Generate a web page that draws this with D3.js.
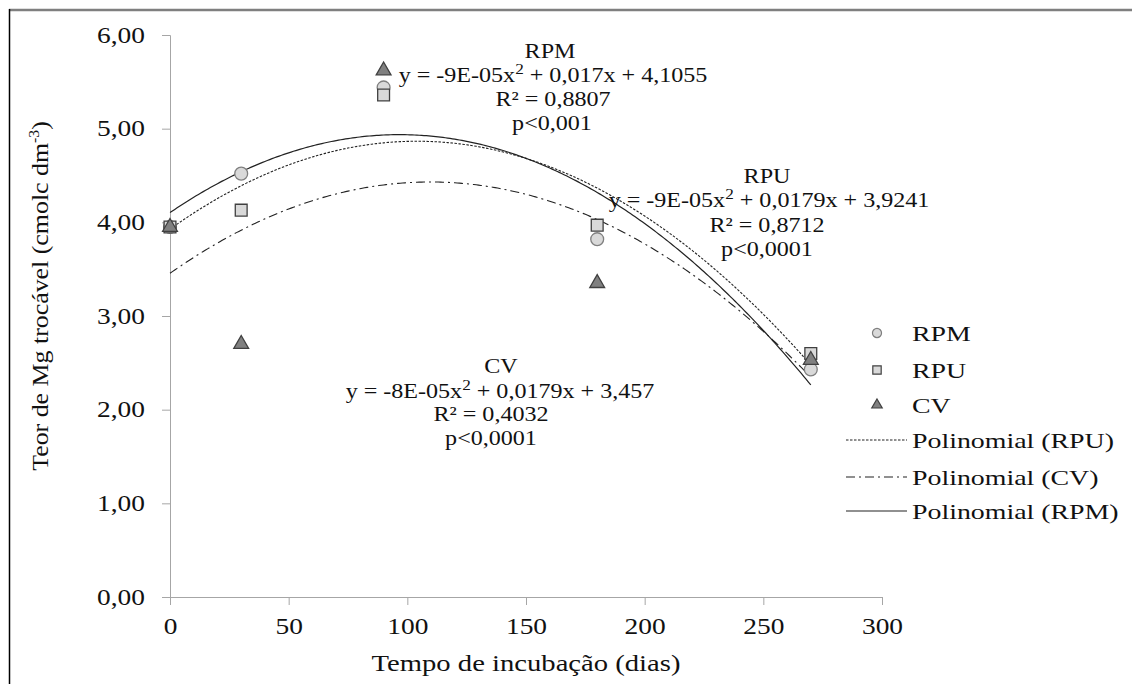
<!DOCTYPE html>
<html><head><meta charset="utf-8">
<script src="https://cdn.jsdelivr.net/npm/d3@7"></script>
<style>
html,body{margin:0;padding:0;background:#fff;}
svg{display:block;}
svg text{font-family:"Liberation Serif","Tinos","Times New Roman","Nimbus Roman","DejaVu Serif",serif !important;}
</style></head>
<body>
<svg id="chart" width="1132" height="684"></svg>
<script>
// ---- data ----
const days = [0, 30, 90, 180, 270];
const rpm = [3.95, 4.52, 5.44, 3.82, 2.43];
const rpu = [3.95, 4.13, 5.36, 3.97, 2.60];
const cv  = [3.95, 2.70, 5.62, 3.35, 2.53];
const xTicks = [0, 50, 100, 150, 200, 250, 300];
const yTicks = [0, 1, 2, 3, 4, 5, 6];
const seriesNames = ["RPM", "RPU", "CV"];
const trendNames = ["Polinomial (RPU)", "Polinomial (CV)", "Polinomial (RPM)"];
const eqRPM = ["RPM", "y = -9E-05x", " + 0,017x + 4,1055", "R² = 0,8807", "p<0,001"];
const eqRPU = ["RPU", "y = -9E-05x", " + 0,0179x + 3,9241", "R² = 0,8712", "p<0,0001"];
const eqCV  = ["CV", "y = -8E-05x", " + 0,0179x + 3,457", "R² = 0,4032", "p<0,0001"];

const svg = d3.select("#chart");
const x = d3.scaleLinear([0, 300], [170, 882]);
const y = d3.scaleLinear([0, 6], [597, 35]);
const axisColor = "#a6a6a6";

// horizontal stretch so lettering width matches the reference
function stretch(sel, sx) {
  sel.each(function() {
    const t = d3.select(this);
    const tx = +t.attr("x") || 0, ty = +t.attr("y") || 0;
    t.attr("x", 0).attr("y", 0).attr("transform", `translate(${tx},${ty}) scale(${sx},1)`);
  });
}
function factor(node, target) { return target / node.getComputedTextLength(); }

// frame
svg.append("line").attr("x1", 9).attr("x2", 1132).attr("y1", 10).attr("y2", 10)
  .attr("stroke", "#7f7f7f").attr("stroke-width", 2.5);
svg.append("line").attr("x1", 9.5).attr("x2", 9.5).attr("y1", 9).attr("y2", 684)
  .attr("stroke", "#000").attr("stroke-width", 1.5);

// axes
const fmt = v => d3.format(".2f")(v).replace(".", ",");
const gy = svg.append("g").attr("transform", `translate(${x(0)},0)`)
  .call(d3.axisLeft(y).tickValues(yTicks).tickFormat(fmt).tickSize(8).tickPadding(17));
const gx = svg.append("g").attr("transform", `translate(0,${y(0)})`)
  .call(d3.axisBottom(x).tickValues(xTicks).tickSize(8).tickPadding(13));
[gx, gy].forEach(g => {
  g.select(".domain").attr("stroke", axisColor);
  g.selectAll(".tick line").attr("stroke", axisColor);
  g.selectAll(".tick text").attr("fill", "#111").style("font-size", "22.5px");
});
const tickSX = factor(gy.select(".tick:last-of-type text").node(), 48);
stretch(gy.selectAll(".tick text"), tickSX);
stretch(gx.selectAll(".tick text"), tickSX);

// axis titles
const xt = svg.append("text").attr("x", 526).attr("y", 671).attr("text-anchor", "middle")
  .style("font-size", "23px").attr("fill", "#111").text("Tempo de incubação (dias)");
stretch(xt, factor(xt.node(), 309));
const yt = svg.append("text").attr("text-anchor", "middle").style("font-size", "23px").attr("fill", "#111");
yt.append("tspan").text("Teor de Mg trocável (cmolc dm");
yt.append("tspan").attr("dy", -9).style("font-size", "14px").text("-3");
yt.append("tspan").attr("dy", 9).text(")");
const ytSX = factor(yt.node(), 350);
yt.attr("transform", `translate(48,296) rotate(-90) scale(${ytSX},1)`);

// quadratic least squares fit (Excel polynomial trendline, order 2)
function quadFit(xs, ys) {
  let s = [0,0,0,0,0], t = [0,0,0];
  xs.forEach((xv, i) => {
    for (let k = 0; k < 5; k++) s[k] += Math.pow(xv, k);
    for (let k = 0; k < 3; k++) t[k] += ys[i] * Math.pow(xv, k);
  });
  const M = [[s[0], s[1], s[2], t[0]], [s[1], s[2], s[3], t[1]], [s[2], s[3], s[4], t[2]]];
  for (let i = 0; i < 3; i++) {
    for (let j = i + 1; j < 3; j++) {
      const f = M[j][i] / M[i][i];
      for (let k = i; k < 4; k++) M[j][k] -= f * M[i][k];
    }
  }
  const c = [0,0,0];
  for (let i = 2; i >= 0; i--) {
    let v = M[i][3];
    for (let k = i + 1; k < 3; k++) v -= M[i][k] * c[k];
    c[i] = v / M[i][i];
  }
  return xv => c[0] + c[1] * xv + c[2] * xv * xv;
}

const xsDense = d3.range(0, 270.5, 1);
const line = d3.line().x(d => x(d[0])).y(d => y(d[1]));
const trends = [
  {vals: rpu, dash: "2.5,1.5", width: 1.1},
  {vals: cv, dash: "9,4,2,4", width: 1.1},
  {vals: rpm, dash: null, width: 1.2}
];
trends.forEach(t => {
  const f = quadFit(days, t.vals);
  svg.append("path").datum(xsDense.map(d => [d, f(d)]))
    .attr("d", line).attr("fill", "none").attr("stroke", "#222")
    .attr("stroke-width", t.width).attr("stroke-dasharray", t.dash);
});

// markers
const sym = {
  RPM: {type: d3.symbolCircle, size: 130, fill: "#d9d9d9", stroke: "#7f7f7f"},
  RPU: {type: d3.symbolSquare, size: 140, fill: "#d9d9d9", stroke: "#404040"},
  CV:  {type: d3.symbolTriangle, size: 95, fill: "#808080", stroke: "#404040"}
};
const seriesVals = {RPM: rpm, RPU: rpu, CV: cv};
seriesNames.forEach(name => {
  const s = sym[name];
  svg.append("g").selectAll("path").data(days.map((d, i) => [d, seriesVals[name][i]]))
    .join("path")
    .attr("transform", d => `translate(${x(d[0])},${y(d[1])})`)
    .attr("d", d3.symbol(s.type, s.size))
    .attr("fill", s.fill).attr("stroke", s.stroke).attr("stroke-width", 1.3);
});

// annotations
const annFont = "21px";
function eqText(g, lines, cx, yy) {
  const e = g.append("text").attr("x", cx).attr("y", yy).attr("text-anchor", "middle");
  e.append("tspan").text(lines[1]);
  e.append("tspan").attr("dy", -8).style("font-size", "15px").text("2");
  e.append("tspan").attr("dy", 8).text(lines[2]);
  return e;
}
// width factor from the CV equation (309 px wide in the reference)
const probe = svg.append("g").style("font-size", annFont);
const annSX = factor(eqText(probe, eqCV, 0, -100).node(), 309);
probe.remove();
function annot(lines, ys, cxs) {
  const g = svg.append("g").style("font-size", annFont).attr("fill", "#111");
  stretch(g.append("text").attr("x", cxs[0]).attr("y", ys[0]).attr("text-anchor", "middle").text(lines[0]), annSX);
  stretch(eqText(g, lines, cxs[1], ys[1]), annSX);
  stretch(g.append("text").attr("x", cxs[2]).attr("y", ys[2]).attr("text-anchor", "middle").text(lines[3]), annSX);
  stretch(g.append("text").attr("x", cxs[3]).attr("y", ys[3]).attr("text-anchor", "middle").text(lines[4]), annSX);
}
annot(eqRPM, [58, 82, 106, 130], [550, 553, 553, 552]);
annot(eqRPU, [183, 207, 232, 256], [767, 769, 767, 767]);
annot(eqCV, [373, 398, 421, 445], [501, 500, 491, 491]);

// legend
const lg = svg.append("g").style("font-size", "22px").attr("fill", "#111");
const lgY = [333, 370, 405];
const ltY = [440, 477, 511];
const lprobe = lg.append("text").attr("y", -100).text(trendNames[0]);
const legSX = factor(lprobe.node(), 202);
lprobe.remove();
seriesNames.forEach((n, i) => {
  const s = sym[n];
  lg.append("path").attr("transform", `translate(877,${lgY[i]})`)
    .attr("d", d3.symbol(s.type, s.size * 0.5))
    .attr("fill", s.fill).attr("stroke", s.stroke).attr("stroke-width", 1.2);
  stretch(lg.append("text").attr("x", 912).attr("y", lgY[i] + 8).text(n), legSX);
});
trendNames.forEach((n, i) => {
  const t = trends[i];
  lg.append("line").attr("x1", 846).attr("x2", 907).attr("y1", ltY[i]).attr("y2", ltY[i])
    .attr("stroke", "#222").attr("stroke-width", t.width).attr("stroke-dasharray", t.dash);
  stretch(lg.append("text").attr("x", 912).attr("y", ltY[i] + 8).text(n), legSX);
});
</script>
</body></html>
